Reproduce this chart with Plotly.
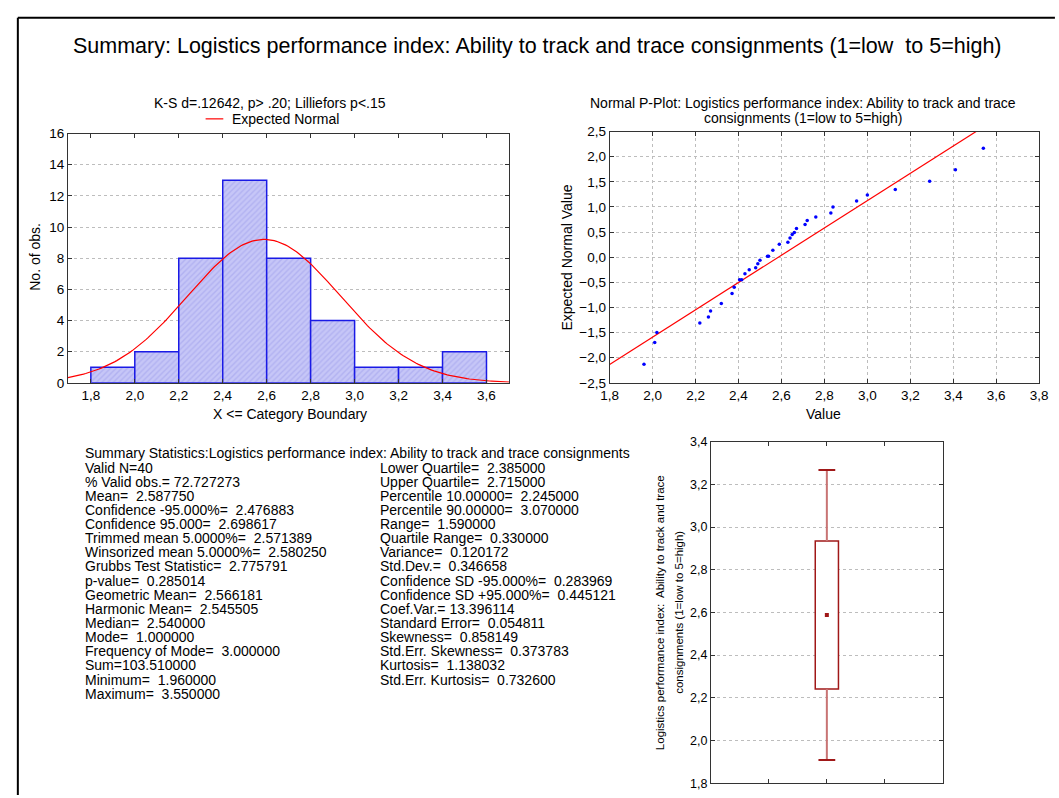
import plotly.graph_objects as go
import numpy as np

# ---------------- data ----------------
bin_lower = [1.8, 2.0, 2.2, 2.4, 2.6, 2.8, 3.0, 3.2, 3.4]
bin_width = 0.2
bin_counts = [1, 2, 8, 13, 8, 4, 1, 1, 2]

n_obs = 40
mean_val = 2.587750
sd_val = 0.346658

pp_x = [1.96, 2.01, 2.02, 2.22, 2.26, 2.27, 2.32, 2.37, 2.38, 2.405, 2.415, 2.43,
        2.45, 2.48, 2.49, 2.50, 2.535, 2.54, 2.56, 2.59, 2.63, 2.64, 2.65, 2.66,
        2.67, 2.71, 2.72, 2.76, 2.83, 2.84, 2.95, 3.00, 3.13, 3.29, 3.41, 3.54]
pp_y = [-2.13, -1.70, -1.50, -1.31, -1.19, -1.07, -0.92, -0.72, -0.60, -0.45, -0.45, -0.33,
        -0.25, -0.21, -0.13, -0.06, 0.02, 0.02, 0.14, 0.26, 0.30, 0.38, 0.45, 0.49,
        0.57, 0.65, 0.73, 0.80, 0.88, 1.00, 1.12, 1.24, 1.35, 1.51, 1.74, 2.17]
ref_line_x = [1.8, 3.8]
ref_line_y = [-2.135, 3.30]

box_center = [2]
box_mean = 2.588
box_lo = 2.241
box_hi = 2.934
whisk_lo = 1.908
whisk_hi = 3.267

stats_title = "Summary Statistics:Logistics performance index: Ability to track and trace consignments"
stats_left = ["Valid N=40", "% Valid obs.= 72.727273", "Mean=  2.587750",
              "Confidence -95.000%=  2.476883", "Confidence 95.000=  2.698617",
              "Trimmed mean 5.0000%=  2.571389", "Winsorized mean 5.0000%=  2.580250",
              "Grubbs Test Statistic=  2.775791", "p-value=  0.285014",
              "Geometric Mean=  2.566181", "Harmonic Mean=  2.545505",
              "Median=  2.540000", "Mode=  1.000000", "Frequency of Mode=  3.000000",
              "Sum=103.510000", "Minimum=  1.960000", "Maximum=  3.550000"]
stats_right = ["Lower Quartile=  2.385000", "Upper Quartile=  2.715000",
               "Percentile 10.00000=  2.245000", "Percentile 90.00000=  3.070000",
               "Range=  1.590000", "Quartile Range=  0.330000", "Variance=  0.120172",
               "Std.Dev.=  0.346658", "Confidence SD -95.000%=  0.283969",
               "Confidence SD +95.000%=  0.445121", "Coef.Var.= 13.396114",
               "Standard Error=  0.054811", "Skewness=  0.858149",
               "Std.Err. Skewness=  0.373783", "Kurtosis=  1.138032",
               "Std.Err. Kurtosis=  0.732600"]

# expected normal curve from the stated mean / SD
curve_x = np.linspace(1.696, 3.704, 200)
curve_y = n_obs * bin_width * np.exp(-0.5 * ((curve_x - mean_val) / sd_val) ** 2) / (sd_val * np.sqrt(2 * np.pi))

# ---------------- layout helpers ----------------
W, H = 1059, 798
def px(x):
    return x / W
def py(y):
    return 1 - y / H

FONT = "Liberation Sans, Arial, sans-serif"
GRID = dict(showgrid=True, gridcolor="#bdbdbd", griddash="dot", gridwidth=1)
AX = dict(showline=True, linecolor="#333333", linewidth=1, mirror="ticks",
          ticks="inside", ticklen=4, tickcolor="#333333", zeroline=False,
          tickfont=dict(family=FONT, size=13.5, color="black"))

fig = go.Figure()

# histogram
fig.add_trace(go.Bar(
    x=bin_lower, y=bin_counts, width=bin_width, offset=0,
    marker=dict(color="#c6c6f7", line=dict(color="#1a1ae6", width=1.5),
                pattern=dict(shape="/", fillmode="overlay", fgcolor="#9d9dec",
                             size=4, solidity=0.35)),
    xaxis="x", yaxis="y", showlegend=False))
fig.add_trace(go.Scatter(x=curve_x, y=curve_y, mode="lines",
                         line=dict(color="#ff0000", width=1.2),
                         xaxis="x", yaxis="y", showlegend=False))

# normal P-plot
fig.add_trace(go.Scatter(x=ref_line_x, y=ref_line_y, mode="lines",
                         line=dict(color="#ff0000", width=1.2),
                         xaxis="x2", yaxis="y2", showlegend=False))
fig.add_trace(go.Scatter(x=pp_x, y=pp_y, mode="markers",
                         marker=dict(color="#0000ff", size=3.5, symbol="circle"),
                         xaxis="x2", yaxis="y2", showlegend=False, cliponaxis=True))

# box plot (mean, +-SD box, +-1.96 SD whiskers)
fig.add_trace(go.Scatter(x=box_center * 2, y=[whisk_lo, box_lo], mode="lines",
                         line=dict(color="#c87474", width=2),
                         xaxis="x3", yaxis="y3", showlegend=False))
fig.add_trace(go.Scatter(x=box_center * 2, y=[box_hi, whisk_hi], mode="lines",
                         line=dict(color="#c87474", width=2),
                         xaxis="x3", yaxis="y3", showlegend=False))
fig.add_trace(go.Bar(x=box_center, y=[box_hi - box_lo], base=[box_lo], width=0.4,
                     marker=dict(color="white", line=dict(color="#a01818", width=1.5)),
                     xaxis="x3", yaxis="y3", showlegend=False))
fig.add_trace(go.Scatter(x=box_center * 2, y=[whisk_lo, whisk_hi], mode="markers",
                         marker=dict(symbol="line-ew-open", size=12, color="#a01818",
                                     line=dict(color="#a01818", width=2)),
                         xaxis="x3", yaxis="y3", showlegend=False))
fig.add_trace(go.Scatter(x=box_center, y=[box_mean], mode="markers",
                         marker=dict(symbol="square", size=4, color="#a01818"),
                         xaxis="x3", yaxis="y3", showlegend=False))

fig.update_layout(
    width=W, height=H, margin=dict(l=0, r=0, t=0, b=0),
    paper_bgcolor="white", plot_bgcolor="white",
    separators=", ", barmode="overlay",
    font=dict(family=FONT, size=14, color="black"),
    xaxis=dict(domain=[px(60), px(509)], range=[1.696, 3.704], tick0=1.8, dtick=0.2,
               tickformat=".1f", showgrid=False, anchor="y", **AX),
    yaxis=dict(domain=[py(383), py(129)], range=[0, 16], dtick=2, anchor="x",
               **GRID, **AX),
    xaxis2=dict(domain=[px(611), px(1048)], range=[1.8, 3.8], tick0=1.8, dtick=0.2,
                tickformat=".1f", anchor="y2", **GRID, **AX),
    yaxis2=dict(domain=[py(383), py(127)], range=[-2.5, 2.5], dtick=0.5,
                tickformat=".1f", anchor="x2", **GRID, **AX),
    xaxis3=dict(domain=[px(714), px(950)], range=[0, 4], tickvals=[1, 2, 3],
                showticklabels=False, showgrid=False, anchor="y3", **AX),
    yaxis3=dict(domain=[py(791), py(443)], range=[1.8, 3.4], dtick=0.2,
                tickformat=".1f", anchor="x3", **GRID,
                **{k: v for k, v in AX.items() if k != "tickfont"},
                tickfont=dict(family=FONT, size=12.5, color="black")),
)

ann = []
def A(text, x, y, size=14, xanchor="center", angle=0):
    ann.append(dict(text=text, x=px(x), y=py(y), xref="paper", yref="paper",
                    showarrow=False, xanchor=xanchor, yanchor="middle",
                    textangle=angle, font=dict(family=FONT, size=size, color="black")))

A("Summary: Logistics performance index: Ability to track and trace consignments (1=low&nbsp; to 5=high)",
  538, 40, size=21.5)
A("K-S d=.12642, p> .20; Lilliefors p<.15", 266, 98)
A("Expected Normal", 225, 114, xanchor="left")
A("X <= Category Boundary", 286, 415)
A("No. of obs.", 27, 255, angle=-90)
A("Normal P-Plot: Logistics performance index: Ability to track and trace", 808, 98)
A("consignments (1=low to 5=high)", 808, 113)
A("Expected Normal Value", 568, 255, angle=-90)
A("Value", 829, 415)
A("Logistics performance index:&nbsp; Ability to track and trace", 663, 617, size=11.5, angle=-90)
A("consignments (1=low to 5=high)", 682, 617, size=11.5, angle=-90)

y0, dy = 455, 14.4
A(stats_title, 75, y0, xanchor="left")
for i, s in enumerate(stats_left):
    A(s, 75, y0 + dy * (i + 1), xanchor="left")
for i, s in enumerate(stats_right):
    A(s, 375, y0 + dy * (i + 1), xanchor="left")

fig.update_layout(annotations=ann)

shapes = [
    # outer frame
    dict(type="line", xref="paper", yref="paper", x0=px(9), x1=px(W + 5),
         y0=py(11), y1=py(11), line=dict(color="black", width=2)),
    dict(type="line", xref="paper", yref="paper", x0=px(9), x1=px(9),
         y0=py(11), y1=py(H + 5), line=dict(color="black", width=2)),
    # legend sample
    dict(type="line", xref="paper", yref="paper", x0=px(200), x1=px(218),
         y0=py(114), y1=py(114), line=dict(color="#ff0000", width=1.2)),
]
fig.update_layout(shapes=shapes)

post = ("document.documentElement.style.overflow='hidden';"
        "document.body.style.margin='0';document.body.style.overflow='hidden';")
fig.write_html("out.html", config={"displayModeBar": False}, post_script=post)
